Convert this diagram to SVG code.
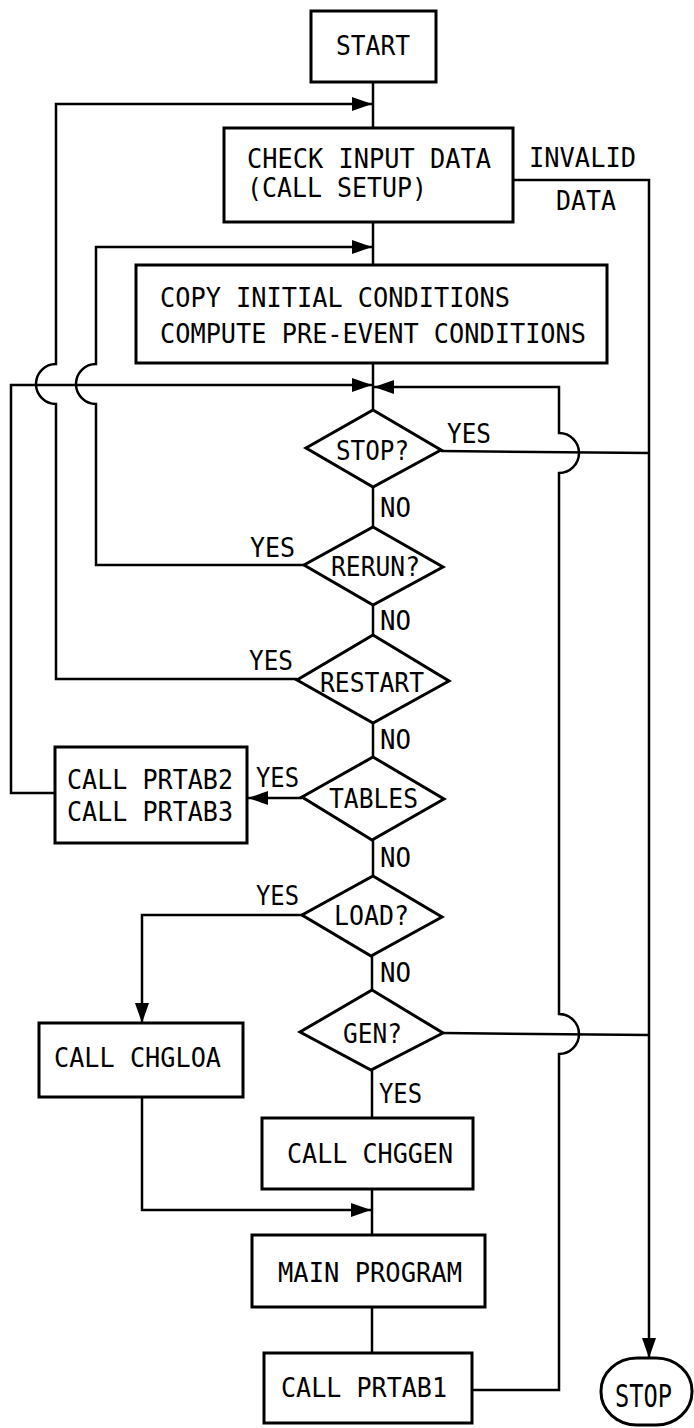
<svg xmlns="http://www.w3.org/2000/svg" width="694" height="1428" viewBox="0 0 694 1428">
<style>
.b{fill:#fff;stroke:#000;stroke-width:3}
.c{fill:none;stroke:#000;stroke-width:2.5}
.t{font-family:"DejaVu Sans Mono","Liberation Mono",monospace;font-size:27px;fill:#000}
</style>
<defs>
<marker id="ah" markerUnits="userSpaceOnUse" markerWidth="22" markerHeight="15" refX="20" refY="7" orient="auto">
<path d="M0,0 L20,7 L0,14 z" fill="#000"/>
</marker>
</defs>
<rect width="694" height="1428" fill="#fff"/>
<g id="connectors">
<path class="c" d="M373,82 V128"/>
<path class="c" d="M297,679 H56 V404 A20,20 0 0 1 56,364 V104 H372" marker-end="url(#ah)"/>
<path class="c" d="M373,222 V265"/>
<path class="c" d="M304,565 H96 V404 A20,20 0 0 1 96,364 V247 H372" marker-end="url(#ah)"/>
<path class="c" d="M373,363 V410"/>
<path class="c" d="M55,793 H11 V385 H372" marker-end="url(#ah)"/>
<path class="c" d="M472,1390 H559 V1054 A20,20 0 0 0 559,1014 V473 A20,20 0 0 0 559,433 V387 H374" marker-end="url(#ah)"/>
<path class="c" d="M513,180 H649 V1358" marker-end="url(#ah)"/>
<path class="c" d="M441,451 L649,453"/>
<path class="c" d="M373,487 V527"/>
<path class="c" d="M373,605 V635"/>
<path class="c" d="M373,723 V757"/>
<path class="c" d="M302,798 H248" marker-end="url(#ah)"/>
<path class="c" d="M373,840 V876"/>
<path class="c" d="M302,915 H142 V1023" marker-end="url(#ah)"/>
<path class="c" d="M372,956 V990"/>
<path class="c" d="M443,1033 L649,1035"/>
<path class="c" d="M372,1070 V1118"/>
<path class="c" d="M142,1097 V1210 H371" marker-end="url(#ah)"/>
<path class="c" d="M372,1189 V1235"/>
<path class="c" d="M372,1307 V1353"/>
</g>
<g id="start"><rect class="b" x="311" y="11" width="125" height="71"/><text class="t" x="336" y="55" textLength="74" lengthAdjust="spacingAndGlyphs">START</text></g>
<g id="check"><rect class="b" x="224" y="128" width="289" height="94"/><text class="t" x="247" y="168" textLength="244" lengthAdjust="spacingAndGlyphs">CHECK INPUT DATA</text><text class="t" x="247" y="197" textLength="180" lengthAdjust="spacingAndGlyphs">(CALL SETUP)</text></g>
<g id="invalid-label"><text class="t" x="529" y="167" textLength="107" lengthAdjust="spacingAndGlyphs">INVALID</text><text class="t" x="556" y="210" textLength="60" lengthAdjust="spacingAndGlyphs">DATA</text></g>
<g id="copy"><rect class="b" x="136" y="265" width="471" height="98"/><text class="t" x="160" y="307" textLength="350" lengthAdjust="spacingAndGlyphs">COPY INITIAL CONDITIONS</text><text class="t" x="160" y="343" textLength="426" lengthAdjust="spacingAndGlyphs">COMPUTE PRE-EVENT CONDITIONS</text></g>
<g id="stopq"><polygon class="b" points="373,410 441,450 373,487 306,448"/><text class="t" x="336" y="460" textLength="73" lengthAdjust="spacingAndGlyphs">STOP?</text><text class="t" x="447" y="443" textLength="44" lengthAdjust="spacingAndGlyphs">YES</text><text class="t" x="380" y="517" textLength="31" lengthAdjust="spacingAndGlyphs">NO</text></g>
<g id="rerun"><polygon class="b" points="373,527 443,567 373,605 304,565"/><text class="t" x="331" y="576" textLength="89" lengthAdjust="spacingAndGlyphs">RERUN?</text><text class="t" x="250" y="557" textLength="45" lengthAdjust="spacingAndGlyphs">YES</text><text class="t" x="380" y="630" textLength="31" lengthAdjust="spacingAndGlyphs">NO</text></g>
<g id="restart"><polygon class="b" points="373,635 449,681 373,723 297,680"/><text class="t" x="320" y="692" textLength="104" lengthAdjust="spacingAndGlyphs">RESTART</text><text class="t" x="249" y="670" textLength="44" lengthAdjust="spacingAndGlyphs">YES</text><text class="t" x="380" y="749" textLength="31" lengthAdjust="spacingAndGlyphs">NO</text></g>
<g id="tables"><polygon class="b" points="373,757 444,799 372,840 302,797"/><text class="t" x="329" y="808" textLength="89" lengthAdjust="spacingAndGlyphs">TABLES</text><text class="t" x="256" y="787" textLength="43" lengthAdjust="spacingAndGlyphs">YES</text><text class="t" x="380" y="867" textLength="31" lengthAdjust="spacingAndGlyphs">NO</text></g>
<g id="prtab23"><rect class="b" x="55" y="747" width="192" height="96"/><text class="t" x="67" y="789" textLength="166" lengthAdjust="spacingAndGlyphs">CALL PRTAB2</text><text class="t" x="67" y="821" textLength="166" lengthAdjust="spacingAndGlyphs">CALL PRTAB3</text></g>
<g id="load"><polygon class="b" points="373,876 442,917 371,956 302,915"/><text class="t" x="334" y="925" textLength="75" lengthAdjust="spacingAndGlyphs">LOAD?</text><text class="t" x="256" y="905" textLength="43" lengthAdjust="spacingAndGlyphs">YES</text><text class="t" x="380" y="982" textLength="31" lengthAdjust="spacingAndGlyphs">NO</text></g>
<g id="gen"><polygon class="b" points="372,990 443,1033 371,1070 300,1032"/><text class="t" x="343" y="1043" textLength="59" lengthAdjust="spacingAndGlyphs">GEN?</text><text class="t" x="379" y="1103" textLength="43" lengthAdjust="spacingAndGlyphs">YES</text></g>
<g id="chgloa"><rect class="b" x="39" y="1023" width="204" height="74"/><text class="t" x="54" y="1067" textLength="167" lengthAdjust="spacingAndGlyphs">CALL CHGLOA</text></g>
<g id="chggen"><rect class="b" x="262" y="1118" width="211" height="71"/><text class="t" x="287" y="1163" textLength="166" lengthAdjust="spacingAndGlyphs">CALL CHGGEN</text></g>
<g id="main"><rect class="b" x="252" y="1235" width="233" height="72"/><text class="t" x="278" y="1282" textLength="184" lengthAdjust="spacingAndGlyphs">MAIN PROGRAM</text></g>
<g id="prtab1"><rect class="b" x="264" y="1353" width="208" height="70"/><text class="t" x="281" y="1397" textLength="166" lengthAdjust="spacingAndGlyphs">CALL PRTAB1</text></g>
<g id="stop"><rect class="b" x="601" y="1358" width="91" height="67" rx="36" ry="33"/><text class="t" x="615" y="1407" textLength="57" lengthAdjust="spacingAndGlyphs" style="font-size:32px">STOP</text></g>
</svg>
